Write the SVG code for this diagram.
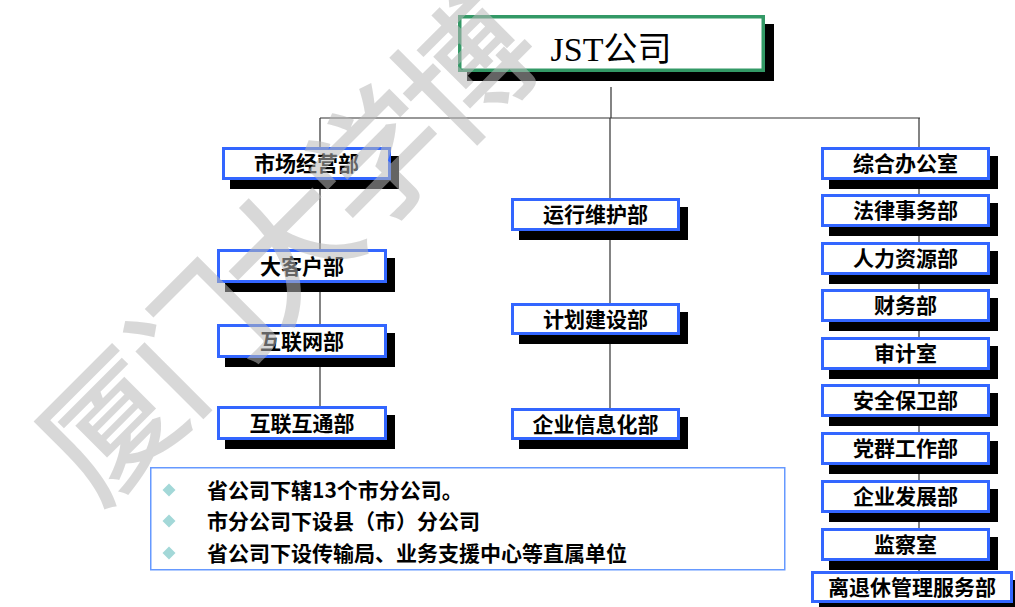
<svg xmlns="http://www.w3.org/2000/svg" width="1015" height="607" viewBox="0 0 1015 607">
<defs>
<style>
.box{fill:#fff;stroke:#3366ff;stroke-width:3}
.sh{fill:#000}
.lbl{font-family:"Noto Sans CJK SC","Noto Sans",sans-serif;font-weight:bold;font-size:21px;fill:#000;text-anchor:middle}
.ln{stroke:#333;stroke-width:1.2;fill:none}
.bul{font-family:"Noto Sans CJK SC","Noto Sans",sans-serif;font-weight:bold;font-size:21px;fill:#000}
.dia{fill:#a3d8d8}
</style>
</defs>
<rect width="1015" height="607" fill="#fff"/>
<g id="connectors">
<path class="ln" d="M611 87V118M320 118H920M320 118V406M610 118V408M919 118V572"/>
</g>
<g id="root">
<rect class="sh" x="467" y="24" width="307" height="57"/>
<rect x="459.75" y="16.75" width="303.5" height="53.5" fill="#fff" stroke="#339966" stroke-width="3.5"/>
<text x="611" y="61" text-anchor="middle" font-size="34" fill="#000"><tspan font-family="Liberation Serif,serif">JST</tspan><tspan font-family="Noto Sans CJK SC,sans-serif">公司</tspan></text>
</g>
<g id="n1"><rect class="sh" x="230" y="156" width="169" height="33"/><rect class="box" x="223.5" y="148.5" width="166" height="30"/><text class="lbl" x="306.5" y="171">市场经营部</text></g>
<g id="n2"><rect class="sh" x="225" y="258" width="170" height="34"/><rect class="box" x="218.5" y="250.5" width="167" height="31"/><text class="lbl" x="302" y="273.5">大客户部</text></g>
<g id="n3"><rect class="sh" x="225" y="333" width="170" height="34"/><rect class="box" x="218.5" y="325.5" width="167" height="31"/><text class="lbl" x="302" y="348.5">互联网部</text></g>
<g id="n4"><rect class="sh" x="225" y="415" width="170" height="34"/><rect class="box" x="218.5" y="407.5" width="167" height="31"/><text class="lbl" x="302" y="431">互联互通部</text></g>
<g id="m1"><rect class="sh" x="519" y="207" width="169" height="33"/><rect class="box" x="512.5" y="199.5" width="166" height="30"/><text class="lbl" x="595.5" y="222">运行维护部</text></g>
<g id="m2"><rect class="sh" x="519" y="312" width="169" height="32"/><rect class="box" x="512.5" y="304.5" width="166" height="29"/><text class="lbl" x="595.5" y="326.5">计划建设部</text></g>
<g id="m3"><rect class="sh" x="519" y="417" width="169" height="32"/><rect class="box" x="512.5" y="409.5" width="166" height="29"/><text class="lbl" x="595.5" y="431.5">企业信息化部</text></g>
<g id="r1"><rect class="sh" x="829" y="156" width="169" height="33"/><rect class="box" x="822.5" y="148.5" width="166" height="30"/><text class="lbl" x="905.5" y="171">综合办公室</text></g>
<g id="r2"><rect class="sh" x="829" y="203" width="169" height="33"/><rect class="box" x="822.5" y="195.5" width="166" height="30"/><text class="lbl" x="905.5" y="218">法律事务部</text></g>
<g id="r3"><rect class="sh" x="829" y="251" width="169" height="33"/><rect class="box" x="822.5" y="243.5" width="166" height="30"/><text class="lbl" x="905.5" y="266">人力资源部</text></g>
<g id="r4"><rect class="sh" x="829" y="298" width="169" height="33"/><rect class="box" x="822.5" y="290.5" width="166" height="30"/><text class="lbl" x="905.5" y="313">财务部</text></g>
<g id="r5"><rect class="sh" x="829" y="346" width="169" height="33"/><rect class="box" x="822.5" y="338.5" width="166" height="30"/><text class="lbl" x="905.5" y="361">审计室</text></g>
<g id="r6"><rect class="sh" x="829" y="393" width="169" height="33"/><rect class="box" x="822.5" y="385.5" width="166" height="30"/><text class="lbl" x="905.5" y="408">安全保卫部</text></g>
<g id="r7"><rect class="sh" x="829" y="441" width="169" height="33"/><rect class="box" x="822.5" y="433.5" width="166" height="30"/><text class="lbl" x="905.5" y="456">党群工作部</text></g>
<g id="r8"><rect class="sh" x="829" y="489" width="169" height="33"/><rect class="box" x="822.5" y="481.5" width="166" height="30"/><text class="lbl" x="905.5" y="504">企业发展部</text></g>
<g id="r9"><rect class="sh" x="829" y="537" width="169" height="33"/><rect class="box" x="822.5" y="529.5" width="166" height="30"/><text class="lbl" x="905.5" y="552">监察室</text></g>
<g id="r10"><rect class="sh" x="819" y="580" width="202" height="32"/><rect class="box" x="812.5" y="572.5" width="199" height="29"/><text class="lbl" x="912" y="595">离退休管理服务部</text></g>
<g id="notes">
<rect x="150.75" y="467.75" width="634" height="102" fill="#fff" stroke="#6699ff" stroke-width="1.5"/>
<path class="dia" d="M169 483.5l6.5 6.5-6.5 6.5-6.5-6.5z"/>
<path class="dia" d="M169 514.5l6.5 6.5-6.5 6.5-6.5-6.5z"/>
<path class="dia" d="M169 546.5l6.5 6.5-6.5 6.5-6.5-6.5z"/>
<text class="bul" x="207" y="497.5">省公司下辖13个市分公司。</text>
<text class="bul" x="207" y="528.5">市分公司下设县（市）分公司</text>
<text class="bul" x="207" y="560.5">省公司下设传输局、业务支援中心等直属单位</text>
</g>
<g id="watermark" opacity="0.54">
<text x="280" y="245" transform="rotate(-45 280 245)" text-anchor="middle" dominant-baseline="central" font-family="Noto Sans CJK SC,sans-serif" font-weight="500" font-size="134" letter-spacing="-8" fill="#b9b9b9">厦门大学博</text>
</g>
</svg>
